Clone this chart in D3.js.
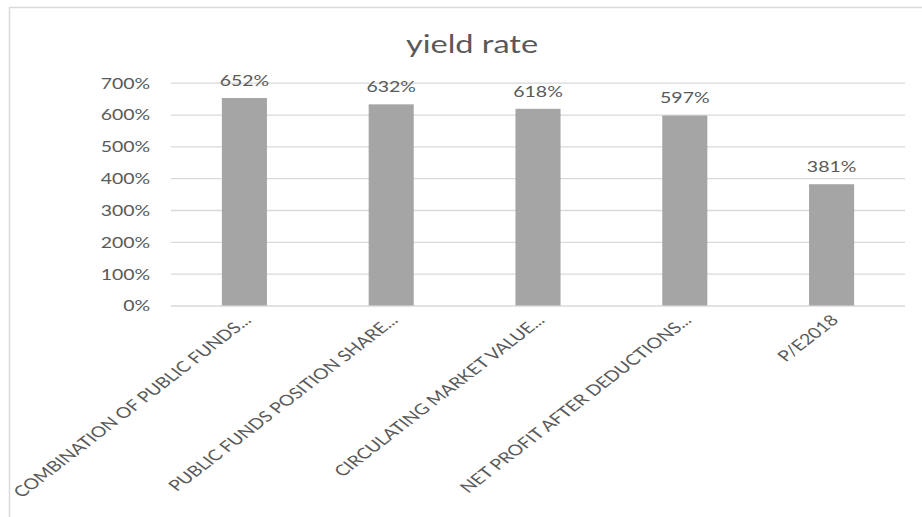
<!DOCTYPE html>
<html>
<head>
<meta charset="utf-8">
<script src="https://cdn.jsdelivr.net/npm/d3@7"></script>
<style>
  body { margin: 0; background: #fff; }
  text { font-family: Lato, "Open Sans", sans-serif; fill: #595959; }
</style>
</head>
<body>
<div id="chart"></div>
<script>
// data
const categories = [
  'COMBINATION OF PUBLIC FUNDS...',
  'PUBLIC FUNDS POSITION SHARE...',
  'CIRCULATING MARKET VALUE...',
  'NET PROFIT AFTER DEDUCTIONS...',
  'P/E2018'
];
const values = [6.52, 6.32, 6.18, 5.97, 3.81];
const yTicks = [0, 1, 2, 3, 4, 5, 6, 7];
const title = 'yield rate';

var W = 922, H = 517;
var sx = 1.3; // the reference is stretched sideways, text included
var margin = {top: 82.7, right: 17, bottom: 211.5, left: 171};
var width = W - margin.left - margin.right;
var height = H - margin.top - margin.bottom;

var svg = d3.select('#chart').append('svg')
  .attr('width', W)
  .attr('height', H);

// chart frame (right/bottom edges run off the picture)
svg.append('rect')
  .attr('x', 9.5).attr('y', 7.5)
  .attr('width', 960).attr('height', 560)
  .attr('fill', 'none')
  .attr('stroke', '#d9d9d9')
  .attr('stroke-width', 1.5);

svg.append('text')
  .attr('transform', `translate(472,53) scale(${sx},1)`)
  .attr('text-anchor', 'middle')
  .style('font-size', '25px')
  .text(title);

var g = svg.append('g')
  .attr('transform', 'translate(' + margin.left + ',' + margin.top + ')');

var x = d3.scaleBand()
  .domain(categories)
  .range([0, width])
  .paddingInner(0.693)
  .paddingOuter(0.3465);

var y = d3.scaleLinear()
  .domain([0, 7])
  .range([height, 0]);

// y axis + gridlines
var yAxis = g.append('g')
  .call(d3.axisLeft(y).tickValues(yTicks).tickSize(-width).tickFormat(d3.format('.0%')));
yAxis.select('.domain').remove();
yAxis.selectAll('line').attr('stroke', '#d9d9d9').attr('stroke-width', 1.3);
yAxis.selectAll('text')
  .attr('x', -16)
  .attr('dy', '0.36em')
  .attr('transform', `scale(${sx},1)`)
  .style('font-size', '15px')
  .style('font-family', 'Lato, "Open Sans", sans-serif')
  .attr('fill', '#595959');

// bars
g.selectAll('rect.bar')
  .data(values)
  .enter()
  .append('rect')
  .attr('class', 'bar')
  .attr('x', (d, i) => x(categories[i]))
  .attr('y', d => y(d))
  .attr('width', x.bandwidth())
  .attr('height', d => height - y(d))
  .attr('fill', '#a5a5a5');

// value labels
g.selectAll('text.val')
  .data(values)
  .enter()
  .append('text')
  .attr('class', 'val')
  .attr('transform', (d, i) => `translate(${x(categories[i]) + x.bandwidth() / 2},${y(d) - 12}) scale(${sx},1)`)
  .attr('text-anchor', 'middle')
  .style('font-size', '15px')
  .text(d => d3.format('.0%')(d));

// category labels, rotated
g.selectAll('text.cat')
  .data(categories)
  .enter()
  .append('text')
  .attr('class', 'cat')
  .attr('transform', d => `translate(${x(d) + x.bandwidth() / 2 + 3},${height + 12}) scale(${sx},1) rotate(-45)`)
  .attr('text-anchor', 'end')
  .attr('dy', '0.35em')
  .style('font-size', '15px')
  .text(d => d);
</script>
</body>
</html>
